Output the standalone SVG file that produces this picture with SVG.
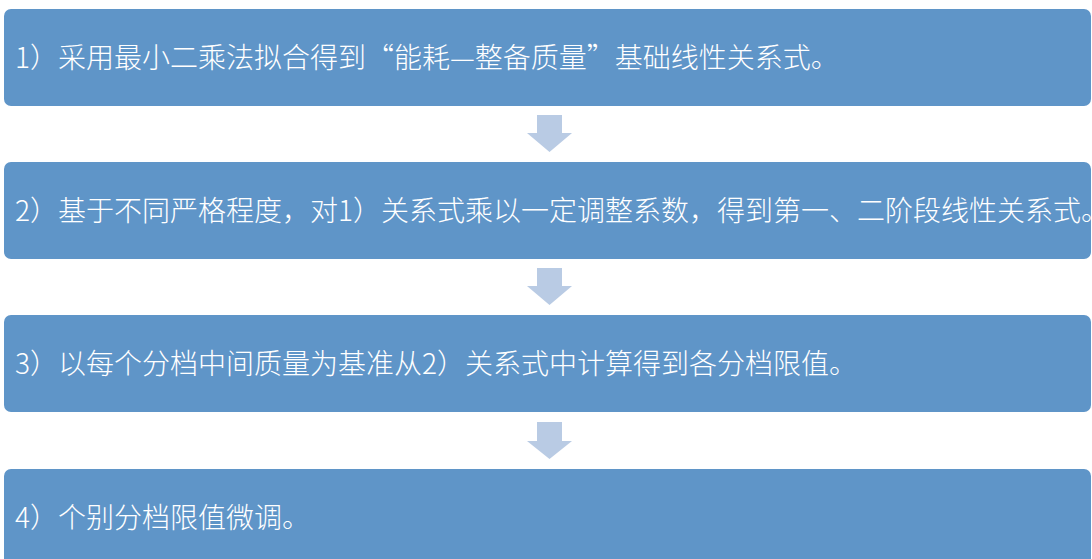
<svg xmlns="http://www.w3.org/2000/svg" width="1092" height="559" viewBox="0 0 1092 559">
<style>
.box{fill:#5f95c8;}
.arr{fill:#b9cbe4;}
.t{fill:#ffffff;font-family:"Noto Sans CJK SC","Noto Sans",sans-serif;font-size:28px;font-weight:300;}
</style>
<rect width="1092" height="559" fill="#ffffff"/>
<g id="connectors">
<polygon class="arr" points="537,115 562,115 562,133 572,133 549.5,152 527,133 537,133"/>
<polygon class="arr" points="537,268 562,268 562,286 572,286 549.5,305 527,286 537,286"/>
<polygon class="arr" points="537,422 562,422 562,441 572,441 549.5,459 527,441 537,441"/>
</g>
<g id="step1">
<rect class="box" x="4" y="9" width="1087" height="97" rx="7"/>
<text class="t" x="15" y="68">1）采用最小二乘法拟合得到“能耗—整备质量”基础线性关系式。</text>
</g>
<g id="step2">
<rect class="box" x="4" y="162" width="1087" height="97" rx="7"/>
<text class="t" x="15" y="221">2）基于不同严格程度，对1）关系式乘以一定调整系数，得到第一、二阶段线性关系式。</text>
</g>
<g id="step3">
<rect class="box" x="4" y="315" width="1087" height="97" rx="7"/>
<text class="t" x="15" y="374">3）以每个分档中间质量为基准从2）关系式中计算得到各分档限值。</text>
</g>
<g id="step4">
<rect class="box" x="4" y="469" width="1087" height="97" rx="7"/>
<text class="t" x="15" y="528">4）个别分档限值微调。</text>
</g>
</svg>
